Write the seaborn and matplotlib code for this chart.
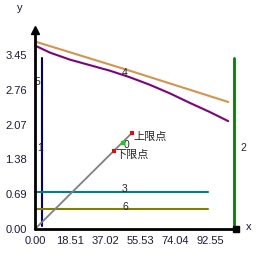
import matplotlib
matplotlib.use("Agg")
import matplotlib.pyplot as plt
import seaborn as sns
import pandas as pd

# ---- data ----
x_ticks = [0.00, 18.51, 37.02, 55.53, 74.04, 92.55]
y_ticks = [0.00, 0.69, 1.38, 2.07, 2.76, 3.45]

orange_x = [0, 50.2, 102.2]
orange_y = [3.72, 3.14, 2.52]
purple_x = [0, 7.9, 18.5, 29.1, 39.7, 50.2, 60.8, 71.4, 82.0, 92.5, 102.2]
purple_y = [3.64, 3.50, 3.36, 3.25, 3.14, 3.01, 2.86, 2.69, 2.50, 2.32, 2.14]

navy_x = [3.5, 3.5]
navy_y = [0.05, 3.39]
green_x = [105.2, 105.2]
green_y = [0.05, 3.39]
teal_x = [0, 91.3]
teal_y = [0.74, 0.74]
olive_x = [0, 91.3]
olive_y = [0.40, 0.40]
gray_x = [0, 51.1]
gray_y = [0, 1.90]

upper_pt = (51.1, 1.90)
lower_pt = (41.8, 1.55)
mid_pt = (46.4, 1.71)

sns.set_style("white")
plt.rcParams['font.family'] = ['Liberation Sans', 'Noto Sans CJK SC', 'DejaVu Sans']

fig = plt.figure(figsize=(2.65, 2.65), dpi=100)
ax = fig.add_axes([35/265, 36/265, 230/265, 229/265])
ax.set_xlim(0, 230/1.891)
ax.set_ylim(0, 229/50.4)
for s in ax.spines.values():
    s.set_visible(False)

lw = 1.5

def line(xs, ys, color, w=lw):
    df = pd.DataFrame({"x": xs, "y": ys})
    sns.lineplot(data=df, x="x", y="y", color=color, linewidth=w, ax=ax,
                 sort=False, estimator=None, clip_on=False)

line(orange_x, orange_y, "#D4944C")
line(purple_x, purple_y, "#800080")
line(navy_x, navy_y, "#000080")
line(green_x, green_y, "#008000", 2.0)
line(teal_x, teal_y, "#008080")
line(olive_x, olive_y, "#808000")
line(gray_x, gray_y, "#808080", 1.3)

# markers
pts = pd.DataFrame({"x": [upper_pt[0], lower_pt[0]], "y": [upper_pt[1], lower_pt[1]]})
sns.scatterplot(data=pts, x="x", y="y", color="red", marker="s", s=9, linewidth=0, ax=ax, zorder=5)
mp = pd.DataFrame({"x": [mid_pt[0]], "y": [mid_pt[1]]})
sns.scatterplot(data=mp, x="x", y="y", color="#00E000", marker="s", s=9, linewidth=0, ax=ax, zorder=5)

# axes lines
ax.plot([0, 0], [0, 3.9], color="black", lw=2, clip_on=False, zorder=6)
ax.plot([0], [3.95], marker="^", color="black", markersize=6, clip_on=False, zorder=6)
ax.plot([0, 106.3], [0, 0], color="black", lw=2, clip_on=False, zorder=6)
ax.plot([106.3], [0], marker="s", color="black", markersize=4, clip_on=False, zorder=6)

# ticks
ax.set_xticks(x_ticks)
ax.set_xticklabels([f"{v:.2f}" for v in x_ticks])
ax.set_yticks(y_ticks)
ax.set_yticklabels([f"{v:.2f}" for v in y_ticks])
ax.tick_params(axis="both", direction="in", color="magenta", length=4, width=2,
               labelsize=8, labelcolor="#1a1a3a")
ax.tick_params(axis="y", pad=6)
ax.tick_params(axis="x", pad=5)
ax.set_xlabel("")
ax.set_ylabel("")

# text labels
fs = 7.5
def txt(x, y, s, **kw):
    ax.text(x, y, s, fontsize=fs, ha="center", va="center", clip_on=False, **kw)

txt(47.6, 3.10, "4")
txt(1.1, 2.92, "5")
txt(2.6, 1.61, "1")
txt(110.0, 1.61, "2")
txt(47.6, 0.79, "3")
txt(47.6, 0.44, "6")
txt(48.3, 1.66, "0")
ax.text(52.0, 1.83, "上限点", fontsize=8, ha="left", va="center",
        family=["Noto Sans CJK SC", "DejaVu Sans"])
ax.text(42.3, 1.47, "下限点", fontsize=8, ha="left", va="center",
        family=["Noto Sans CJK SC", "DejaVu Sans"])
ax.text(-7.9, 4.38, "y", fontsize=8, ha="center", va="center", color="#1a1a3a", clip_on=False)
ax.text(113.2, 0.04, "x", fontsize=8, ha="center", va="center", color="#1a1a3a", clip_on=False)

fig.savefig("out.png", dpi=100)
